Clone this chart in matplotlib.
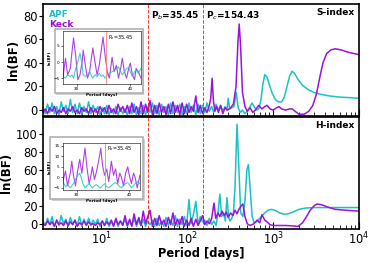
import numpy as np
import matplotlib
matplotlib.use("Agg")
import matplotlib.pyplot as plt
from matplotlib.patches import Rectangle

# colours
APF_C = "#19C2C6"
KECK_C = "#9A12DB"

PB = 35.45
PC = 154.43

# shared period grid for the noisy short-period part (days)
p_noise = [2.1, 2.23, 2.37, 2.52, 2.68, 2.85, 3.03, 3.22, 3.42, 3.64, 3.87, 4.11,
           4.37, 4.65, 4.94, 5.25, 5.58, 5.93, 6.3, 6.7, 7.12, 7.57, 8.05, 8.56,
           9.1, 9.67, 10.3, 10.9, 11.6, 12.3, 13.1, 13.9, 14.8, 15.7, 16.7, 17.8,
           18.9, 20.1, 21.4, 22.7, 24.1, 25.7, 27.3, 29.0, 30.8, 32.8, 34.8, 37.0,
           39.4, 41.9, 44.5, 47.3, 50.3, 53.5, 56.8, 60.4, 64.2, 68.3, 72.6, 77.1,
           82.0, 87.2, 92.7, 98.5, 105, 111, 118, 126, 134, 142, 151]

# ---- S-index ----
s_apf_noise = [2, -3, 5, -2, 6, -3, 3, -4, 7, -1, 4, -3, 9, -2, 5, -3, 6, -4, 3, -2, 7, -3, 4,
               -2, 3, -4, 2, -3, 4, -4, 1, -3, 3, -4, 2, -3, 1, -4, 3, -3, 5, -4, 2,
               -3, 4, -4, 3, -2, 6, -3, 4, -4, 5, -2, 3, -4, 6, -3, 4, -2, 5, -4, 3, -3, 6,
               -2, 4, -4, 5, -3, 4]
s_apf_tail_p = [160, 170, 181, 192, 204, 217, 231, 245, 260, 276, 290, 300, 312, 330, 350,
                372, 392, 415, 440, 470, 500, 540, 570, 600, 640, 680, 720, 760, 800, 850,
                900, 980, 1060, 1150, 1260, 1350, 1450, 1560, 1660, 1780, 1950, 2200, 2600,
                3000, 3500, 4500, 6000, 8000, 10000]
s_apf_tail = [-2, 6, -1, 3, -2, 5, 0, 4, -1, 3, 0, 10, 1, 2, 3,
              15, 2, -2, 0, -3, -1, 3, 6, 3, 0, 1, 8, 22, 30, 28,
              22, 14, 9, 7, 7, 11, 20, 29, 33, 31, 26, 21, 17,
              15, 13.5, 12, 11, 10.5, 10]

s_keck_noise = [-2, 1, -3, 2, -1, 3, -3, 0, -2, 2, -3, 1, -1, 3, -2, 0, -3, 2, -1, 1, -3, 2, -2,
                1, -3, 3, -1, 2, -3, 4, -2, 1, -3, 5, -1, 3, -2, 4, -3, 6, -2, 3, -4,
                7, -3, 5, -2, 8, -4, 4, -3, 6, -2, 3, -4, 5, -3, 7, -2, 4, -4, 6, -3, 5,
                -2, 3, -1, 12, -2, 4, -3]
s_keck_tail_p = [160, 170, 181, 188, 195, 202, 210, 220, 231, 245, 260, 276, 295, 320, 345,
                 370, 390, 403, 418, 440, 470, 500, 540, 580, 620, 680, 740, 800, 850, 920,
                 1000, 1100, 1170, 1250, 1400, 1550, 1670, 1800, 2000, 2300, 2600, 2900,
                 3200, 3500, 3800, 4200, 4700, 5300, 6200, 7500, 10000]
s_keck_tail = [2, -2, 4, 10, 27, 8, -1, 3, -2, 4, -3, 2, 0, 2, 5,
               20, 58, 73, 55, 15, 3, -1, 2, -2, 0, 4, 1, 3, 4, 1,
               0, 2, 3, 1, 0, 1, 1, -1, -3.5, -3.5, -1, 4,
               14, 28, 40, 48, 51, 52, 51, 49, 47]

# ---- H-index ----
h_apf_noise = [3, -2, 6, -1, 8, -3, 4, -2, 9, 0, 5, -3, 7, -1, 4, -2, 8, -3, 5, -1, 6, -2, 4,
               -1, 5, -3, 3, -2, 6, -3, 2, -2, 4, -3, 3, -1, 5, -3, 2, -2, 6, -3, 4,
               -2, 5, -3, 3, -1, 4, -3, 6, -2, 3, -3, 7, -1, 4, -2, 9, -3, 5, -1, 8, -2,
               27, 0, 10, 25, -1, 8, 2]
h_apf_tail_p = [160, 170, 181, 192, 204, 217, 228, 240, 252, 265, 278, 290, 303, 315, 330,
                345, 360, 380, 400, 420, 445, 470, 495, 515, 540, 570, 600, 640, 700, 780,
                870, 950, 1050, 1200, 1350, 1500, 1700, 2000, 2400, 3000, 4000, 6000, 10000]
h_apf_tail = [4, -2, 6, -1, 3, -2, 12, 33, 8, 12, 3, 29, 8, 3, 6,
              12, 40, 111, 60, 12, 8, 25, 60, 66, 40, 8, 1, 2, 6, 11,
              15, 16, 15, 12, 10.5, 11, 13, 16, 17.5, 18, 18, 18, 18]

h_keck_noise = [0, -2, 3, -1, 2, -3, 4, -1, 1, -2, 3, -2, 2, -1, 4, -3, 1, -1, 3, -2, 2, -1, 0,
                -2, 1, -1, 3, -2, 2, -1, 4, -3, 6, -1, 3, -2, 9, -2, 5, -3, 11, -1, 7,
                -2, 14, 0, 8, 15, -3, 6, -2, 9, -1, 4, -3, 7, -1, 12, -2, 5, -1, 8, -3,
                4, -2, 6, -3, 5, -2, 3, 9]
h_keck_tail_p = [160, 170, 181, 192, 205, 215, 228, 240, 255, 270, 285, 300, 320, 340, 360,
                 380, 400, 425, 445, 470, 500, 540, 600, 650, 700, 740, 800, 850, 920, 1000,
                 1200, 1400, 1700, 1950, 2200, 2450, 2700, 3000, 3250, 3700, 4500, 5300,
                 7000, 10000]
h_keck_tail = [-1, 3, 0, 5, 23, 6, 12, 8, 14, 9, 13, 7, 12, 9, 15,
               11, 16, 20, 22, 8, 0, -2, 0, 4, 1, 10, 4, 2, -1, -2,
               -2, -2, -2.5, -3, 1, 8, 15, 20, 22, 21, 18, 16,
               15, 14]

# ---- zoomed insets around P_b ----
p_inset = [27.4, 27.9, 28.3, 28.8, 29.1, 29.4, 29.8, 30.2, 30.6, 31.0, 31.2, 31.6, 32.0,
           32.4, 32.8, 33.0, 33.4, 33.8, 34.2, 34.6, 34.9, 35.3, 35.7, 36.1, 36.6, 37.0,
           37.4, 37.8, 38.2, 38.5, 38.9, 39.3, 39.7, 40.0, 40.4, 40.8, 41.1, 41.5, 42.0]
s_keck_inset = [-5, 1.2, -4, -2, 3, 7.5, 2, -5.5, -4, 0, 3.7, -1, -5,
                -3, 2, 4.4, 0, -4, -1, 4, 7.8, 2, -3, -5, 1.5, -3,
                -1, -5, -2, 1.2, -3, -5, -2, -0.3, -4, -5.5, -2, -3, -5]
s_apf_inset = [-4.5, -5, -4, -4.5, -4, -5, -2, 0, 2.8, -1, -4, -4.5, -4,
               -3, -4.5, -5, -4, -4.5, -3.5, -4.5, -4, -5, -4, -3.5, -3, -2.5,
               -2, -1.5, -3, -4, -3, -2, -1.7, -3, -4.5, -3, -2.5, -3.5, -2]
h_keck_inset = [-2, 3, -4, 2, 7.7, 1, -4, 3, 8.6, 2, 6, 14, 4,
                -3, 2, 5, -1, 3, 8, 14, 6, 1, 4, -2, 7.7, 1,
                4, -3, 2, 0, -4, 2, 5, 1, -3, 2, 0, -5, 1]
h_apf_inset = [-2, -4.5, -3.5, -5, -4, -3, -1, 1, 2, -1, -3, -5, -4,
               -3, -4.5, -5, -4, -3.5, -4.5, -5, -4, -3, -4.5, -5, -4, -3,
               -2.5, -3.5, -4.5, -5, -4, -3, -2.5, -3.5, -5, -4, -3, -2, -3]


def draw_inset(fig, frame, rect, keck, apf, ylim, yticks):
    fig.patches.append(Rectangle((frame[0] + 0.004, frame[1] - 0.006), frame[2], frame[3],
                                 transform=fig.transFigure, facecolor="#d0d0d0",
                                 edgecolor="none", zorder=5))
    fig.patches.append(Rectangle(frame[:2], frame[2], frame[3],
                                 transform=fig.transFigure, facecolor="white",
                                 edgecolor="#b0b0b0", lw=1.2, zorder=6))
    ins = fig.add_axes(rect, zorder=7)
    ins.plot(p_inset, keck, color=KECK_C, lw=0.8, alpha=0.8)
    ins.plot(p_inset, apf, color=APF_C, lw=0.8, alpha=0.8)
    ins.axvline(PB, color="#ff8080", lw=0.6)
    ins.text(PB + 0.3, ylim[1] - (ylim[1] - ylim[0]) * 0.12, r"P$_b$=35.45",
             fontsize=3.5, va="center")
    ins.set_xlim(27.4, 42)
    ins.set_ylim(*ylim)
    ins.set_xticks([30, 40])
    ins.set_yticks(yticks)
    ins.tick_params(labelsize=3, length=1.5, width=0.4, pad=1)
    ins.set_xlabel("Period [days]", fontsize=3, fontweight="bold", labelpad=1)
    ins.set_ylabel("ln(BF)", fontsize=3, fontweight="bold", labelpad=1)
    for sp in ins.spines.values():
        sp.set_linewidth(0.4)


fig = plt.figure(figsize=(3.74, 2.63), dpi=100)
ax1 = fig.add_axes([0.115, 0.559, 0.845, 0.426])
ax2 = fig.add_axes([0.115, 0.129, 0.845, 0.426], sharex=ax1)

panels = [
    (ax1, s_apf_noise + s_apf_tail, s_apf_tail_p, s_keck_noise + s_keck_tail, s_keck_tail_p,
     (-5, 90), [0, 20, 40, 60, 80], "S-index"),
    (ax2, h_apf_noise + h_apf_tail, h_apf_tail_p, h_keck_noise + h_keck_tail, h_keck_tail_p,
     (-6, 119), [0, 20, 40, 60, 80, 100], "H-index"),
]

for ax, apf, apf_tp, keck, keck_tp, ylim, yt, name in panels:
    ax.plot(p_noise + apf_tp, apf, color=APF_C, lw=1.1, label="APF")
    ax.plot(p_noise + keck_tp, keck, color=KECK_C, lw=1.1, label="Keck")
    ax.axvline(PB, color="red", ls="--", lw=0.7, alpha=0.8)
    ax.axvline(PC, color="red", ls="--", lw=0.7, alpha=0.8)
    ax.set_xscale("log")
    ax.set_xlim(2.1, 1e4)
    ax.set_ylim(*ylim)
    ax.set_yticks(yt)
    ax.set_ylabel("ln(BF)", fontsize=8.5, fontweight="bold", labelpad=2)
    ax.tick_params(axis="y", labelsize=8.3, direction="out", length=3, pad=1)
    ax.tick_params(axis="x", which="both", direction="in", labelsize=8.3, pad=1.5)
    ax.tick_params(axis="x", which="major", length=5)
    ax.tick_params(axis="x", which="minor", length=3)
    ax.text(0.985, 0.92, name, transform=ax.transAxes, ha="right", va="center",
            fontsize=6.5, fontweight="bold")
    for sp in ax.spines.values():
        sp.set_linewidth(1.2)

ax1.tick_params(axis="x", labelbottom=False)
ax1.text(38, 80, r"P$_b$=35.45", fontsize=6.5, fontweight="bold", va="center")
ax1.text(166, 80, r"P$_c$=154.43", fontsize=6.5, fontweight="bold", va="center")
leg = ax1.legend(loc="upper left", frameon=False, handlelength=0, handletextpad=0,
                 labelcolor="linecolor", prop={"weight": "bold", "size": 6.5},
                 borderaxespad=0.3, labelspacing=0.05)
for h in leg.legend_handles:
    h.set_visible(False)

ax2.set_xlabel("Period [days]", fontsize=8.3, fontweight="bold", labelpad=-0.5)

draw_inset(fig, [0.147, 0.646, 0.235, 0.243], [0.168, 0.681, 0.209, 0.2015],
           s_keck_inset, s_apf_inset, (-6.8, 9.7), [-5, 0, 5])
draw_inset(fig, [0.134, 0.243, 0.249, 0.236], [0.168, 0.278, 0.206, 0.179],
           h_keck_inset, h_apf_inset, (-6, 16.5), [-5, 0, 5, 10, 15])

fig.savefig("out.png", dpi=100)
